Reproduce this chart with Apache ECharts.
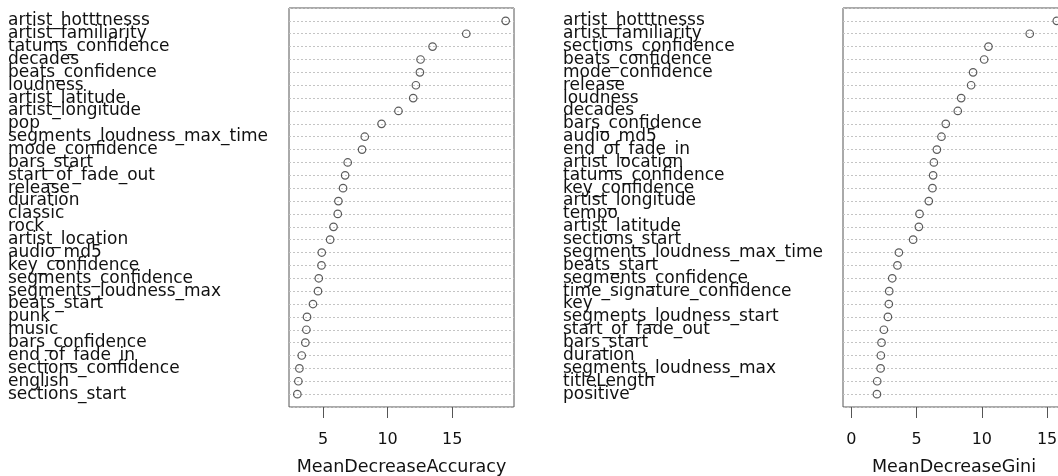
<!DOCTYPE html>
<html>
<head>
<meta charset="utf-8">
<script src="https://cdn.jsdelivr.net/npm/echarts@6/dist/echarts.min.js"></script>
<style>
  html, body { margin: 0; padding: 0; background: #fff; overflow: hidden; }
  #chart { width: 1058px; height: 476px; }
</style>
</head>
<body>
<div id="chart"></div>
<script>
// Variable importance from a random forest, ordered from most to least important.
const accNames = [
  'artist_hotttnesss', 'artist_familiarity', 'tatums_confidence', 'decades',
  'beats_confidence', 'loudness', 'artist_latitude', 'artist_longitude', 'pop',
  'segments_loudness_max_time', 'mode_confidence', 'bars_start', 'start_of_fade_out',
  'release', 'duration', 'classic', 'rock', 'artist_location', 'audio_md5',
  'key_confidence', 'segments_confidence', 'segments_loudness_max', 'beats_start',
  'punk', 'music', 'bars_confidence', 'end_of_fade_in', 'sections_confidence',
  'english', 'sections_start'
];
const accValues = [
  19.14, 16.09, 13.48, 12.55, 12.50, 12.19, 11.98, 10.84, 9.53,
  8.23, 8.02, 6.91, 6.71,
  6.55, 6.19, 6.14, 5.81, 5.55, 4.90,
  4.88, 4.67, 4.61, 4.22,
  3.76, 3.71, 3.63, 3.35, 3.17,
  3.09, 3.01
];

const giniNames = [
  'artist_hotttnesss', 'artist_familiarity', 'sections_confidence', 'beats_confidence',
  'mode_confidence', 'release', 'loudness', 'decades', 'bars_confidence', 'audio_md5',
  'end_of_fade_in', 'artist_location', 'tatums_confidence', 'key_confidence',
  'artist_longitude', 'tempo', 'artist_latitude', 'sections_start',
  'segments_loudness_max_time', 'beats_start', 'segments_confidence',
  'time_signature_confidence', 'key', 'segments_loudness_start', 'start_of_fade_out',
  'bars_start', 'duration', 'segments_loudness_max', 'titleLength', 'positive'
];
const giniValues = [
  15.74, 13.67, 10.51, 10.18,
  9.33, 9.18, 8.42, 8.16, 7.24, 6.91,
  6.56, 6.33, 6.27, 6.22,
  5.94, 5.23, 5.18, 4.74,
  3.65, 3.54, 3.14,
  2.91, 2.88, 2.81, 2.50,
  2.32, 2.27, 2.25, 1.99, 1.97
];

const accTicks = [5, 10, 15];
const giniTicks = [0, 5, 10, 15];

const FONT = 'DejaVu Sans';
const n = accNames.length;

// Pad a range by 4% on each side, as base graphics does.
function padded(lo, hi) {
  const d = (hi - lo) * 0.04;
  return [lo - d, hi + d];
}
const accRange = padded(Math.min(...accValues), Math.max(...accValues));
const giniRange = padded(0, Math.max(...giniValues));

// Rows are numbered from the bottom: the first item sits on row n.
function rows(values) {
  return values.map((v, i) => [v, n - i]);
}
function rowLabel(names) {
  return (val) => {
    const i = n - Math.round(val);
    return (i >= 0 && i < n) ? names[i] : '';
  };
}

function xAxisFor(gridIndex, range, ticks, title) {
  return {
    type: 'value', gridIndex,
    min: range[0], max: range[1],
    name: title, nameLocation: 'middle', nameGap: 51,
    nameTextStyle: { fontFamily: FONT, fontSize: 17.5, color: '#111' },
    axisLine: { show: false },
    axisTick: { show: true, customValues: ticks, length: 11, lineStyle: { color: '#555', width: 1 } },
    axisLabel: { customValues: ticks, margin: 25, fontFamily: FONT, fontSize: 16, color: '#111' },
    splitLine: { show: false }
  };
}
function yAxisFor(gridIndex, names, margin) {
  return {
    type: 'value', gridIndex,
    min: 0, max: n + 1, interval: 1,
    axisLine: { show: false },
    axisTick: { show: false },
    axisLabel: {
      formatter: rowLabel(names), align: 'left', margin,
      fontFamily: FONT, fontSize: 17, color: '#111',
      showMinLabel: false, showMaxLabel: false,
      verticalAlign: 'middle', padding: [16, 0, 0, 0]
    },
    splitLine: { show: true, lineStyle: { color: '#c4c4c4', type: [2, 2], width: 1 } }
  };
}
function dots(idx, values) {
  return {
    type: 'scatter', xAxisIndex: idx, yAxisIndex: idx,
    data: rows(values), symbol: 'circle', symbolSize: 7.5,
    itemStyle: { color: 'rgba(255,255,255,0)', borderColor: '#333', borderWidth: 1.2 },
    silent: true
  };
}

const panel = {
  top: 8, height: 399, show: true, borderColor: '#555', borderWidth: 1,
  containLabel: false, outerBoundsMode: 'none'
};

const chart = echarts.init(document.getElementById('chart'), null, { renderer: 'canvas' });
chart.setOption({
  animation: false,
  backgroundColor: '#fff',
  grid: [
    Object.assign({ left: 289, width: 225 }, panel),
    // the right panel runs slightly past the page edge
    Object.assign({ left: 843, width: 222 }, panel)
  ],
  xAxis: [
    xAxisFor(0, accRange, accTicks, 'MeanDecreaseAccuracy'),
    xAxisFor(1, giniRange, giniTicks, 'MeanDecreaseGini')
  ],
  yAxis: [
    yAxisFor(0, accNames, 281),
    yAxisFor(1, giniNames, 280)
  ],
  series: [dots(0, accValues), dots(1, giniValues)]
});
</script>
</body>
</html>
